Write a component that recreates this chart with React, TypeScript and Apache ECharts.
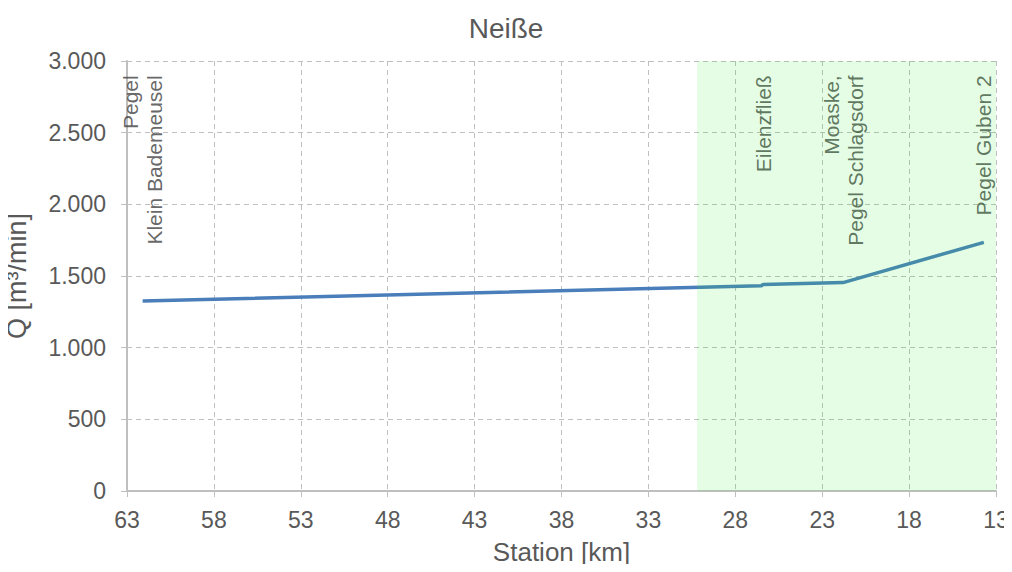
import React, { useEffect, useRef } from "react";
import * as echarts from "echarts";

const stationKm = [62.1, 26.5, 26.4, 21.8, 13.7];
const discharge = [1326, 1432, 1441, 1454, 1735];

const labelKm = [62.1, 26.4, 21.8, 13.7];
const labelTexts = ["Pegel\nKlein Bademeusel", "Eilenzfließ", "Moaske,\nPegel Schlagsdorf", "Pegel Guben 2"];
const labelLevel = 2900;

const shadeFrom = 30.2;
const shadeTo = 13;

const FONT = "'Liberation Sans', Arial, sans-serif";

export default function App() {
  const ref = useRef<HTMLDivElement>(null);
  useEffect(() => {
    if (!ref.current) return;
    const chart = echarts.init(ref.current, null, { renderer: "svg" });
    const lineData = stationKm.map((k, i) => [k, discharge[i]]);
    const labelData = labelKm.map((k, i) => [k, labelLevel, labelTexts[i]]);
    chart.setOption({
      animation: false,
      textStyle: { fontFamily: FONT },
      title: {
        text: "Neiße",
        left: "center",
        top: 9,
        textStyle: { fontFamily: FONT, fontSize: 28, fontWeight: "normal", color: "#595959" },
      },
      grid: { left: 127, right: 16, top: 61, bottom: 81, containLabel: false, outerBoundsMode: "none" },
      xAxis: {
        type: "value",
        inverse: true,
        min: 13,
        max: 63,
        interval: 5,
        name: "Station [km]",
        nameLocation: "middle",
        nameGap: 48,
        nameTextStyle: { fontFamily: FONT, fontSize: 26, color: "#595959" },
        axisLine: { show: true, lineStyle: { color: "#bfbfbf", width: 2 } },
        axisTick: { show: true, length: 6, lineStyle: { color: "#bfbfbf", width: 1 } },
        axisLabel: { fontFamily: FONT, fontSize: 23, color: "#595959", margin: 17 },
        splitLine: { show: true, lineStyle: { color: "#bfbfbf", type: [5, 4], width: 1 } },
      },
      yAxis: {
        type: "value",
        min: 0,
        max: 3000,
        interval: 500,
        name: "Q [m³/min]",
        nameLocation: "middle",
        nameGap: 97,
        nameTextStyle: { fontFamily: FONT, fontSize: 27, color: "#595959" },
        axisLine: { show: true, lineStyle: { color: "#bfbfbf", width: 2 } },
        axisTick: { show: true, length: 6, lineStyle: { color: "#bfbfbf", width: 1 } },
        axisLabel: {
          fontFamily: FONT,
          fontSize: 23,
          color: "#595959",
          margin: 21,
          formatter: (v: number) => v.toLocaleString("de-DE"),
        },
        splitLine: { show: true, lineStyle: { color: "#bfbfbf", type: [5, 4], width: 1 } },
      },
      series: [
        {
          type: "line",
          data: lineData,
          showSymbol: false,
          symbol: "none",
          lineStyle: { color: "#4a7ebb", width: 3.5 },
          z: 2,
        },
        {
          type: "scatter",
          data: labelData,
          symbolSize: 1,
          itemStyle: { color: "rgba(0,0,0,0)" },
          z: 3,
          label: {
            show: true,
            position: "inside",
            rotate: 90,
            align: "right",
            verticalAlign: "middle",
            fontFamily: FONT,
            fontSize: 21,
            lineHeight: 24,
            color: "#404040",
            formatter: (p: any) => p.value[2],
          },
        },
        {
          type: "line",
          data: [],
          z: 5,
          markArea: {
            silent: true,
            z: 10,
            itemStyle: { color: "rgba(40,240,40,0.12)" },
            data: [[{ xAxis: shadeFrom, yAxis: 0 }, { xAxis: shadeTo, yAxis: 3000 }]],
          },
        },
      ],
    });
    return () => chart.dispose();
  }, []);
  return <div ref={ref} style={{ width: 1012, height: 572, margin: -8 }} />;
}
